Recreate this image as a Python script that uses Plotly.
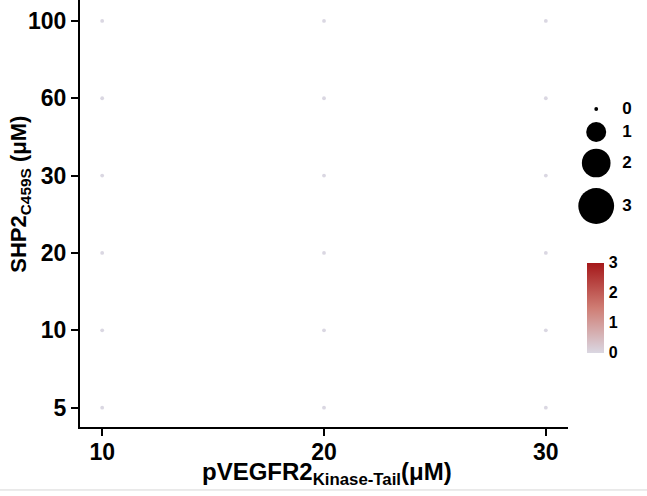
import numpy as np
import plotly.graph_objects as go

# ---------------- data ----------------
x_levels = ["10", "20", "30"]                      # pVEGFR2 Kinase-Tail (uM)
y_levels = ["5", "10", "20", "30", "60", "100"]    # SHP2 C459S (uM)
# signal per (y, x) cell, rows follow y_levels, columns follow x_levels
values = [
    [0, 0, 0],   # 5
    [0, 0, 0],   # 10
    [0, 0, 0],   # 20
    [0, 0, 0],   # 30
    [0, 0, 0],   # 60
    [0, 0, 0],   # 100
]
legend_values = [0, 1, 2, 3]
color_ticks = [0, 1, 2, 3]

# ---------------- styling ----------------
FONT = "Liberation Sans, Arial, sans-serif"
colorscale = [[0, "#dad7e2"], [0.5, "#cf7d74"], [1, "#a5181a"]]


def diameter(v):
    return 3.8 + 16.2 * np.power(np.asarray(v, dtype=float), 0.62)


xs, ys, vs = [], [], []
for i, yl in enumerate(y_levels):
    for j, xl in enumerate(x_levels):
        xs.append(xl)
        ys.append(yl)
        vs.append(values[i][j])

fig = go.Figure()
fig.add_trace(go.Scatter(
    x=xs, y=ys, mode="markers",
    marker=dict(
        size=diameter(vs), color=vs, colorscale=colorscale, cmin=0, cmax=3,
        opacity=1, line=dict(width=0),
        colorbar=dict(
            x=0.894, xanchor="left", y=0.279, yanchor="middle",
            len=90, lenmode="pixels", thickness=17, thicknessmode="pixels",
            outlinewidth=0, xpad=0, ypad=0,
            tickvals=color_ticks, ticks="outside", ticklen=2, tickcolor="white",
            tickfont=dict(family=FONT, size=16, color="black", weight="bold"),
        ),
    ),
    showlegend=False, hoverinfo="skip",
))

# size legend drawn on a hidden helper axis
leg_x_dot = 0.311
leg_x_txt = 0.73
leg_y_px = [109, 132, 163, 206]
fig.add_trace(go.Scatter(
    x=[leg_x_dot] * len(legend_values), y=leg_y_px, xaxis="x2", yaxis="y2",
    mode="markers",
    marker=dict(size=diameter(legend_values), color="black", opacity=1,
                line=dict(width=0)),
    showlegend=False, hoverinfo="skip",
))
fig.add_trace(go.Scatter(
    x=[leg_x_txt] * len(legend_values), y=[p + 1 for p in leg_y_px], xaxis="x2", yaxis="y2",
    mode="text", text=[str(v) for v in legend_values], textposition="middle center",
    textfont=dict(family=FONT, size=17, color="black", weight="bold"),
    showlegend=False, hoverinfo="skip",
))

axis_common = dict(
    type="category", showline=True, linewidth=2, linecolor="black",
    ticks="outside", ticklen=7, tickwidth=2, tickcolor="black",
    tickfont=dict(family=FONT, size=23, color="black", weight="bold"),
    showgrid=False, zeroline=False, automargin=False,
)

fig.update_layout(
    width=647, height=496,
    margin=dict(l=80, r=0, t=0, b=69, pad=0),
    plot_bgcolor="white", paper_bgcolor="white",
    xaxis=dict(axis_common, categoryorder="array", categoryarray=x_levels,
               range=[-0.1, 2.1], domain=[0, 0.8607], ticklabelstandoff=-4),
    yaxis=dict(axis_common, categoryorder="array", categoryarray=y_levels,
               range=[-0.25, 5.27]),
    xaxis2=dict(domain=[0.87, 1.0], range=[0, 1], visible=False, anchor="y2"),
    yaxis2=dict(domain=[0, 1], range=[427, 0], visible=False, anchor="x2"),
    shapes=[dict(type="line", xref="paper", yref="paper", x0=-0.2, x1=1.0,
                 y0=-0.1475, y1=-0.1475, line=dict(color="#d6d6d6", width=1))],
    annotations=[
        dict(text="pVEGFR2<sub>Kinase-Tail</sub>(μM)", xref="paper", yref="paper",
             x=0.4356, y=-0.108, xanchor="center", yanchor="middle", showarrow=False,
             font=dict(family=FONT, size=24, color="black", weight="bold")),
        dict(text="SHP2<sub>C459S</sub> (μM)", xref="paper", yref="paper",
             x=-0.106, y=0.546, xanchor="center", yanchor="middle", showarrow=False,
             textangle=-90,
             font=dict(family=FONT, size=22, color="black", weight="bold")),
    ],
)

fig.write_html("out.html", config={"displayModeBar": False},
               post_script="document.body.style.margin='0';")
